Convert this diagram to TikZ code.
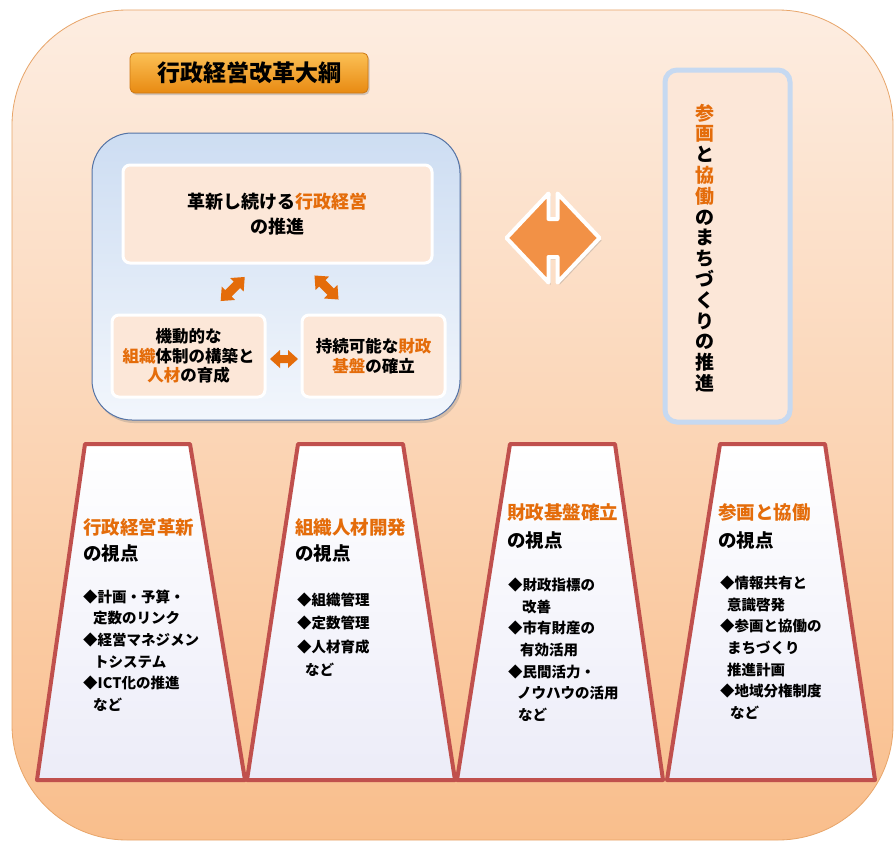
\documentclass[tikz,border=0pt]{standalone}
\usepackage{fontspec}
\newfontfamily\jp{Noto Sans CJK JP}
\usetikzlibrary{shadows}
\definecolor{otxt}{RGB}{228,108,10}
\definecolor{bgtop}{RGB}{253,237,225}
\definecolor{bgbot}{RGB}{249,190,140}
\definecolor{bgline}{RGB}{232,165,105}
\definecolor{peach}{RGB}{252,231,216}
\definecolor{bluetop}{RGB}{205,221,242}
\definecolor{bluebot}{RGB}{242,246,252}
\definecolor{blueline}{RGB}{85,115,165}
\definecolor{lightblue}{RGB}{198,217,241}
\definecolor{titletop}{RGB}{252,192,85}
\definecolor{titlebot}{RGB}{232,138,18}
\definecolor{titleline}{RGB}{205,120,20}
\definecolor{arrowor}{RGB}{228,108,10}
\definecolor{bigor}{RGB}{242,145,70}
\definecolor{trapline}{RGB}{192,80,77}
\definecolor{trapbot}{RGB}{236,236,248}
\newcommand{\og}[1]{\textcolor{otxt}{#1}}
\newcommand{\dblarr}[8]{\begin{scope}[shift={(#1,#2)},rotate=#3]
\path[#8] ({-#4/2},0) -- ({-#4/2+#7},{#5/2}) -- ({-#4/2+#7},{#6/2}) -- ({#4/2-#7},{#6/2}) -- ({#4/2-#7},{#5/2}) -- ({#4/2},0) -- ({#4/2-#7},{-#5/2}) -- ({#4/2-#7},{-#6/2}) -- ({-#4/2+#7},{-#6/2}) -- ({-#4/2+#7},{-#5/2}) -- cycle;
\end{scope}}
\begin{document}
\begin{tikzpicture}[x=1pt,y=-1pt,font=\jp,
  outerbox/.style={draw=bgline, line width=0.8pt, top color=bgtop, bottom color=bgbot, rounded corners=115pt},
  titlebox/.style={draw=titleline, line width=0.8pt, top color=titletop, bottom color=titlebot, rounded corners=5pt, drop shadow={shadow xshift=1.5pt,shadow yshift=-2pt,opacity=0.35}, inner sep=0pt, font=\jp\bfseries\fontsize{23}{26}\selectfont},
  groupbox/.style={draw=blueline, line width=1pt, top color=bluetop, bottom color=bluebot, rounded corners=40pt, drop shadow={shadow xshift=2pt,shadow yshift=-3pt,opacity=0.3}},
  peachbox/.style={draw=white, line width=3pt, fill=peach, rounded corners=7pt, inner sep=0pt, align=center},
  vbox/.style={draw=lightblue, line width=5pt, fill=peach, rounded corners=12pt, drop shadow={shadow xshift=1.5pt,shadow yshift=-2pt,opacity=0.2}},
  trap/.style={draw=trapline, line width=4pt, line join=round, top color=white, bottom color=trapbot},
  smallarr/.style={fill=arrowor},
  bigarr/.style={fill=bigor, draw=white, line width=4pt, line join=round, drop shadow={shadow xshift=2pt,shadow yshift=-2.5pt,opacity=0.3}},
  head/.style={anchor=base west, inner sep=0pt, align=left, font=\jp\bfseries\fontsize{18.5}{26}\selectfont},
  items/.style={anchor=base west, inner sep=0pt, align=left, font=\jp\bfseries\fontsize{14.5}{21.7}\selectfont},
]
\useasboundingbox (0,0) rectangle (896,843);
\fill[white] (0,0) rectangle (896,843);
\path[outerbox] (12,10) rectangle (893,840);

% title
\node[titlebox, minimum width=238pt, minimum height=40pt] (title) at (249,73) {行政経営改革大綱};

% left group
\node[groupbox, minimum width=368pt, minimum height=287pt] (grp) at (276,276.5) {};
\node[peachbox, minimum width=309pt, minimum height=98pt, font=\jp\bfseries\fontsize{18}{25}\selectfont] (gyosei) at (277.5,214) {革新し続ける\og{行政経営}\\の推進};
\node[peachbox, minimum width=153pt, minimum height=82pt, font=\jp\bfseries\fontsize{16.5}{19.5}\selectfont] (soshiki) at (188.5,356) {機動的な\\\og{組織}体制の構築と\\\og{人材}の育成};
\node[peachbox, minimum width=143pt, minimum height=82pt, font=\jp\bfseries\fontsize{16.5}{20}\selectfont] (zaisei) at (373.5,356) {持続可能な\og{財政}\\\og{基盤}の確立};
\dblarr{232.7}{289}{45}{34}{19}{9}{11}{smallarr}
\dblarr{326.5}{287.5}{-45}{34}{19}{9}{11}{smallarr}
\dblarr{284}{359}{0}{28}{18}{8}{10}{smallarr}

% big arrow
\dblarr{553}{238}{0}{93}{89}{38}{42}{bigarr}

% right vertical box
\node[vbox, minimum width=125pt, minimum height=352pt] (sankaku) at (727.5,246) {};
\node[align=center, inner sep=0pt, font=\jp\bfseries\fontsize{19}{20.8}\selectfont] (vtext) at (705,248) {\og{参}\\\og{画}\\と\\\og{協}\\\og{働}\\の\\ま\\ち\\づ\\く\\り\\の\\推\\進};

% trapezoids
\path[trap] (85,444) -- (190,444) -- (245,780) -- (37,780) -- cycle;
\path[trap] (298,444) -- (403,444) -- (455,780) -- (247,780) -- cycle;
\path[trap] (510,444) -- (615,444) -- (663,780) -- (457,780) -- cycle;
\path[trap] (720,444) -- (825,444) -- (875,780) -- (667,780) -- cycle;

% trapezoid 1
\node[head] (h1) at (83,560) {\og{行政経営革新}\\の視点};
\node[items] (b1) at (83,710.5) {◆計画・予算・\\\hspace*{10pt}定数のリンク\\◆経営マネジメン\\\hspace*{11pt}トシステム\\◆ICT化の推進\\\hspace*{10pt}など};
% trapezoid 2
\node[head] (h2) at (295,560) {\og{組織人材開発}\\の視点};
\node[items, font=\jp\bfseries\fontsize{14.5}{23.3}\selectfont] (b2) at (297,675.5) {◆組織管理\\◆定数管理\\◆人材育成\\\hspace*{8pt}など};
% trapezoid 3
\node[head] (h3) at (507,547) {\og{財政基盤確立}\\[2pt]の視点};
\node[items] (b3) at (508,720.5) {◆財政指標の\\\hspace*{14pt}改善\\◆市有財産の\\\hspace*{12pt}有効活用\\◆民間活力・\\\hspace*{9pt}ノウハウの活用\\\hspace*{10pt}など};
% trapezoid 4
\node[head] (h4) at (718,547) {\og{参画と協働}\\[2pt]の視点};
\node[items] (b4) at (720,718.5) {◆情報共有と\\\hspace*{7pt}意識啓発\\◆参画と協働の\\\hspace*{7pt}まちづくり\\\hspace*{7pt}推進計画\\◆地域分権制度\\\hspace*{10pt}など};
\end{tikzpicture}
\end{document}
